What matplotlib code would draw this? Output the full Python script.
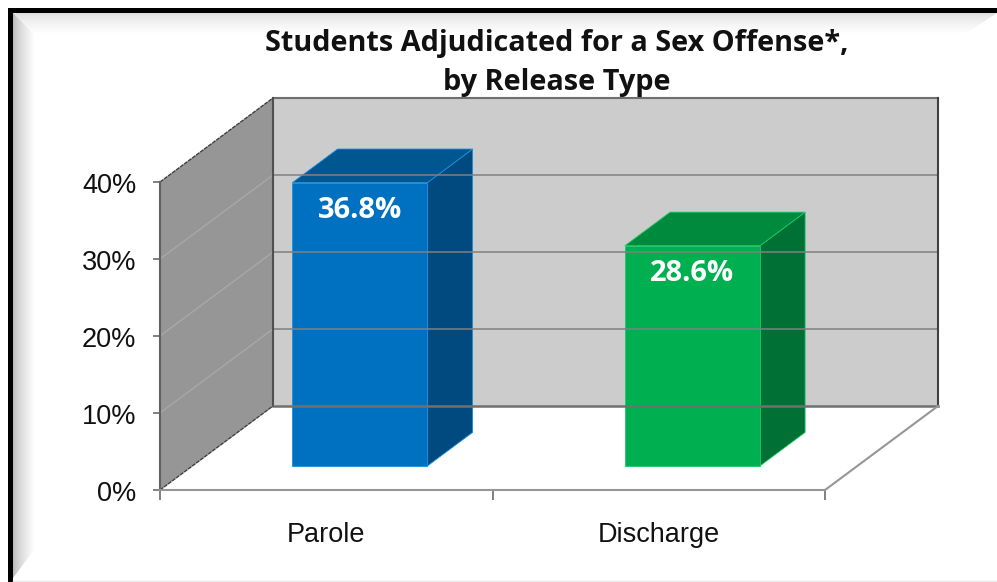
import numpy as np
import matplotlib
matplotlib.use("Agg")
import matplotlib.pyplot as plt
from matplotlib.patches import Polygon
from matplotlib.transforms import ScaledTranslation

categories = ["Parole", "Discharge"]
values = [36.8, 28.6]
labels = ["36.8%", "28.6%"]
yticks = [0, 10, 20, 30, 40]
title = "Students Adjudicated for a Sex Offense*,\nby Release Type"

front_cols = ["#0070C0", "#00B050"]
top_cols = ["#00568F", "#008A3E"]
side_cols = ["#004A80", "#007034"]
edge_cols = ["#1A8FD8", "#1CC868"]

W, H = 997, 582
fig = plt.figure(figsize=(W / 100, H / 100), dpi=100)

# picture frame, in pixels
bg = fig.add_axes([0, 0, 1, 1], zorder=0)
bg.axis("off")

def bevel(pts, extent, grad):
    im = bg.imshow(grad, extent=extent, cmap="gray", vmin=0, vmax=1, aspect="auto",
                   interpolation="bilinear")
    p = Polygon(pts, closed=True, transform=bg.transData, fc="none", ec="none")
    bg.add_patch(p)
    im.set_clip_path(p)

ramp = np.linspace(0, 1, 40) ** 0.7
top = (0.87 + 0.13 * ramp)[:, None]
left = (0.72 + 0.28 * ramp)[None, :]
bg.imshow(np.ones((2, 2)), extent=(0, W, H, 0), cmap="gray", vmin=0, vmax=1, aspect="auto")
bevel([(13, 13), (997, 13), (965, 34), (34, 34)], (13, 997, 34, 13), top)
bevel([(13, 13), (34, 34), (34, 550), (13, 578)], (13, 34, 578, 13), left)
bg.set_xlim(0, W)
bg.set_ylim(H, 0)
bg.fill_between([8, 997], 8, 13, color="black", lw=0)
bg.fill_between([8, 13], 8, 582, color="black", lw=0)
bg.plot([13, 997], [581, 581], color="#e8e8e8", lw=1)

# front plane of the chart
ax = fig.add_axes([160 / W, (H - 490) / H, 665 / W, 308 / H], zorder=1)
ax.patch.set_alpha(0)
ax.set_xlim(0, 2)
ax.set_ylim(0, 40)
for s in ax.spines.values():
    s.set_visible(False)

DX = 113 / 332.5
DY = 84 / 7.7

def proj(x, v, d=0.0):
    return x + d * DX, v + d * DY

def face(pts, **kw):
    xy = [proj(*p) for p in pts]
    ax.add_patch(Polygon(xy, closed=True, clip_on=False, **kw))

def line(p0, p1, **kw):
    a, b = proj(*p0), proj(*p1)
    ax.plot([a[0], b[0]], [a[1], b[1]], clip_on=False, **kw)

# walls
face([(0, 0, 1), (2, 0, 1), (2, 40, 1), (0, 40, 1)], fc="#CCCCCC", ec="none")
face([(0, 0, 0), (0, 0, 1), (0, 40, 1), (0, 40, 0)], fc="#969696", ec="none")
for t in yticks[1:-1]:
    line((0, t, 1), (2, t, 1), color="#808080", lw=1.1)
    line((0, t, 0), (0, t, 1), color="#a8a8a8", lw=1)
line((0, 40, 1), (2, 40, 1), color="#6e6e6e", lw=1.5)
line((2, 0, 1), (2, 40, 1), color="#404040", lw=1.5)
line((0, 0, 1), (0, 40, 1), color="#505050", lw=1.5)
line((0, 0, 1), (2, 0, 1), color="#707070", lw=1.8)
line((0, 40, 0), (0, 40, 1), color="#404040", lw=1, ls=(0, (3, 0.6)))
line((0, 0, 0), (0, 0, 1), color="#404040", lw=1, ls=(0, (3, 0.6)))
line((0, 0, 0), (0, 40, 0), color="#606060", lw=1.5)
line((0, 0, 0), (2, 0, 0), color="#969696", lw=1.5)
line((2, 0, 0), (2, 0, 1), color="#969696", lw=1.5)

# bars
d0, d1 = 0.286, 0.686
bw = 135 / 332.5
for i, v in enumerate(values):
    x0 = i + 0.5 + 0.004 - bw / 2
    x1 = x0 + bw
    style = dict(ec=edge_cols[i], lw=0.6)
    face([(x1, 0, d0), (x1, 0, d1), (x1, v, d1), (x1, v, d0)], fc=side_cols[i], **style)
    face([(x0, v, d0), (x1, v, d0), (x1, v, d1), (x0, v, d1)], fc=top_cols[i], **style)
    face([(x0, 0, d0), (x1, 0, d0), (x1, v, d0), (x0, v, d0)], fc=front_cols[i], **style)
    cx, cy = proj((x0 + x1) / 2, v, d0)
    ax.text(cx, cy - 3.6, labels[i], ha="center", va="center", color="white",
            fontsize=21, fontweight="bold", family="Open Sans", zorder=5)

# axes
ax.set_yticks(yticks)
ax.set_yticklabels([f"{t}%" for t in yticks], family="Liberation Sans", fontsize=19.5, color="#111111")
ax.tick_params(axis="y", length=5, width=1.4, color="#808080", pad=12)
ax.set_xticks([0, 1, 2])
ax.set_xticklabels([])
ax.tick_params(axis="x", length=7, width=1.4, color="#808080")
ax.set_xticks([0.5, 1.5], minor=True)
ax.set_xticklabels(categories, minor=True, family="Liberation Sans", fontsize=19.5, color="#111111")
ax.tick_params(axis="x", which="minor", length=0, pad=23)
shift = ScaledTranslation(0, -0.7 / 72, fig.dpi_scale_trans)
for lab in ax.get_yticklabels():
    lab.set_transform(lab.get_transform() + shift)

fig.text(557 / W, 1 - 63 / H, title, ha="center", va="center", family="Open Sans",
         fontweight="bold", fontsize=20.8, color="#111111", linespacing=1.49, zorder=6)

fig.savefig("out.png", dpi=100)
